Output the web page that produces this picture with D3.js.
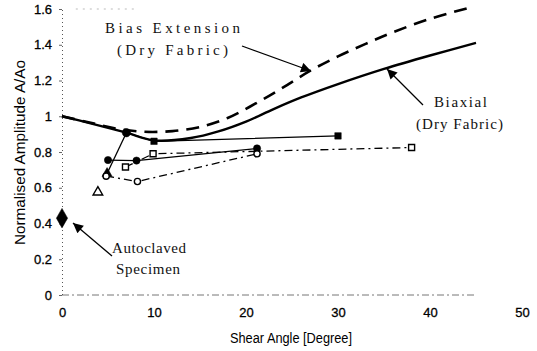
<!DOCTYPE html>
<html>
<head>
<meta charset="utf-8">
<script src="https://cdn.jsdelivr.net/npm/d3@7"></script>
<style>
  html, body { margin: 0; padding: 0; background: #fff; }
  svg { display: block; }
  .tick text { font-family: "Liberation Sans", Arial, sans-serif; font-size: 13px; fill: #000; }
  .anno { font-family: "Liberation Serif", "Times New Roman", serif; font-size: 15px; fill: #111; }
</style>
</head>
<body>
<div id="chart"></div>
<script>
// tick labels
const xTicks = [0, 10, 20, 30, 40, 50];
const yTicks = [0, 0.2, 0.4, 0.6, 0.8, 1, 1.2, 1.4, 1.6];
const yTickLabels = ['0', '0.2', '0.4', '0.6', '0.8', '1', '1.2', '1.4', '1.6'];

// thick fitted curves [shear angle, amplitude]
const biasExtension = [[0, 1.0], [3, 0.965], [6, 0.93], [9, 0.913], [12, 0.917], [15, 0.94], [18, 0.99],
  [21, 1.07], [24, 1.16], [27, 1.255], [30, 1.335], [33, 1.405], [36, 1.47], [40, 1.545], [44.5, 1.61]];
const biaxial = [[0, 1.0], [3, 0.962], [7, 0.908], [10, 0.865], [14, 0.878], [17, 0.915], [20, 0.97],
  [23, 1.04], [26, 1.105], [30, 1.18], [35, 1.265], [40, 1.34], [45, 1.41]];

// measured specimens
const filledTriangle = [[4.9, 0.68], [7.0, 0.908]];
const filledSquare = [[7.0, 0.908], [10.0, 0.86], [30.0, 0.89]];
const filledCircle = [[5.0, 0.755], [8.1, 0.752], [21.2, 0.82]];
const openSquare = [[6.9, 0.716], [9.9, 0.79], [38.0, 0.825]];
const openCircle = [[4.8, 0.665], [8.2, 0.635], [21.2, 0.79]];
const openTriangle = [[3.9, 0.575]];
const autoclaved = [[0, 0.43]];

const W = 537, H = 351;
const margin = { top: 9, right: 15, bottom: 56, left: 62 };

const svg = d3.select('#chart').append('svg')
  .attr('width', W)
  .attr('height', H);

const x = d3.scaleLinear().domain([0, 50]).range([margin.left, W - margin.right]);
const y = d3.scaleLinear().domain([0, 1.6]).range([H - margin.bottom, margin.top]);

// faint frame remnants
svg.append('line')
  .attr('x1', x(0)).attr('x2', x(45))
  .attr('y1', y(0)).attr('y2', y(0))
  .attr('stroke', '#777').attr('stroke-width', 1)
  .attr('stroke-dasharray', '7,3,2,3');
svg.append('line')
  .attr('x1', x(1.5)).attr('x2', x(8))
  .attr('y1', y(1.6)).attr('y2', y(1.6))
  .attr('stroke', '#bbb').attr('stroke-width', 1)
  .attr('stroke-dasharray', '2,5');

// y axis
const yAxis = svg.append('g')
  .attr('transform', `translate(${x(0)},0)`)
  .call(d3.axisLeft(y).tickValues(yTicks).tickSize(3).tickPadding(7)
    .tickFormat((d, i) => yTickLabels[i]));
yAxis.select('.domain')
  .attr('stroke', '#555').attr('stroke-dasharray', '1,3');
yAxis.selectAll('.tick line').attr('stroke', '#666');

// x axis (labels only)
const xAxis = svg.append('g')
  .attr('transform', `translate(0,${y(0)})`)
  .call(d3.axisBottom(x).tickValues(xTicks).tickSize(0).tickPadding(13).tickFormat(d3.format('d')));
xAxis.select('.domain').remove();

svg.selectAll('.tick text').style('stroke', '#000').style('stroke-width', 0.3);

// axis titles
svg.append('text')
  .attr('x', 230).attr('y', 343)
  .attr('textLength', 122).attr('lengthAdjust', 'spacingAndGlyphs')
  .style('font-family', '"Liberation Sans", Arial, sans-serif')
  .style('font-size', '14px')
  .text('Shear Angle [Degree]');
svg.append('text')
  .attr('transform', 'translate(25,245) rotate(-90)')
  .attr('textLength', 185).attr('lengthAdjust', 'spacingAndGlyphs')
  .style('font-family', '"Liberation Sans", Arial, sans-serif')
  .style('font-size', '15px')
  .text('Normalised Amplitude A/Ao');

const smooth = d3.line().x(d => x(d[0])).y(d => y(d[1])).curve(d3.curveCatmullRom.alpha(0.5));
const straight = d3.line().x(d => x(d[0])).y(d => y(d[1]));

// fitted curves
svg.append('path').datum(biasExtension)
  .attr('fill', 'none').attr('stroke', '#000').attr('stroke-width', 2.6)
  .attr('stroke-dasharray', '13,8')
  .attr('d', smooth);
svg.append('path').datum(biaxial)
  .attr('fill', 'none').attr('stroke', '#000').attr('stroke-width', 2.4)
  .attr('d', smooth);

// specimen lines
const seriesLines = [
  { data: filledTriangle, dash: null },
  { data: filledSquare, dash: null },
  { data: filledCircle, dash: null },
  { data: openSquare, dash: '8,4,2,4' },
  { data: openCircle, dash: '8,4,2,4' }
];
seriesLines.forEach(s => {
  svg.append('path').datum(s.data)
    .attr('fill', 'none').attr('stroke', '#000').attr('stroke-width', 1.3)
    .attr('stroke-dasharray', s.dash)
    .attr('d', straight);
});

// markers
function markers(data, type, size, filled) {
  svg.selectAll(null)
    .data(data)
    .enter().append('path')
    .attr('transform', d => `translate(${x(d[0])},${y(d[1])})`)
    .attr('d', d3.symbol().type(type).size(size))
    .attr('fill', filled ? '#000' : '#fff')
    .attr('stroke', '#000')
    .attr('stroke-width', filled ? 0.5 : 1.4);
}
markers(filledTriangle.slice(0, 1), d3.symbolTriangle, 45, true);
markers(filledSquare.slice(0, 1), d3.symbolCircle, 55, true);
markers(filledSquare.slice(1), d3.symbolSquare, 42, true);
markers(filledCircle, d3.symbolCircle, 42, true);
markers(openSquare, d3.symbolSquare, 36, false);
markers(openCircle, d3.symbolCircle, 30, false);
markers(openTriangle, d3.symbolTriangle, 40, false);
markers(autoclaved, d3.symbolDiamond, 110, true);

// annotations
svg.append('defs').append('marker')
  .attr('id', 'head')
  .attr('viewBox', '0 0 10 10')
  .attr('refX', 10).attr('refY', 5)
  .attr('markerWidth', 12).attr('markerHeight', 10)
  .attr('markerUnits', 'userSpaceOnUse')
  .attr('orient', 'auto')
  .append('path').attr('d', 'M0,0 L10,5 L0,10 Z').attr('fill', '#000');

const arrows = [
  [242, 46, 311, 71],
  [423, 105, 387, 69],
  [112, 256, 73, 223]
];
arrows.forEach(a => {
  svg.append('line')
    .attr('x1', a[0]).attr('y1', a[1]).attr('x2', a[2]).attr('y2', a[3])
    .attr('stroke', '#000').attr('stroke-width', 1.3)
    .attr('marker-end', 'url(#head)');
});

const labels = [
  { t: 'Bias Extension', x: 105, y: 33, w: 135 },
  { t: '(Dry Fabric)', x: 117, y: 55, w: 111 },
  { t: 'Biaxial', x: 434, y: 107, w: 53 },
  { t: '(Dry Fabric)', x: 416, y: 129, w: 87 },
  { t: 'Autoclaved', x: 112, y: 253, w: 74 },
  { t: 'Specimen', x: 116, y: 274, w: 64 }
];
labels.forEach(l => {
  svg.append('text').attr('class', 'anno')
    .attr('x', l.x).attr('y', l.y)
    .attr('textLength', l.w).attr('lengthAdjust', 'spacing')
    .text(l.t);
});
</script>
</body>
</html>
